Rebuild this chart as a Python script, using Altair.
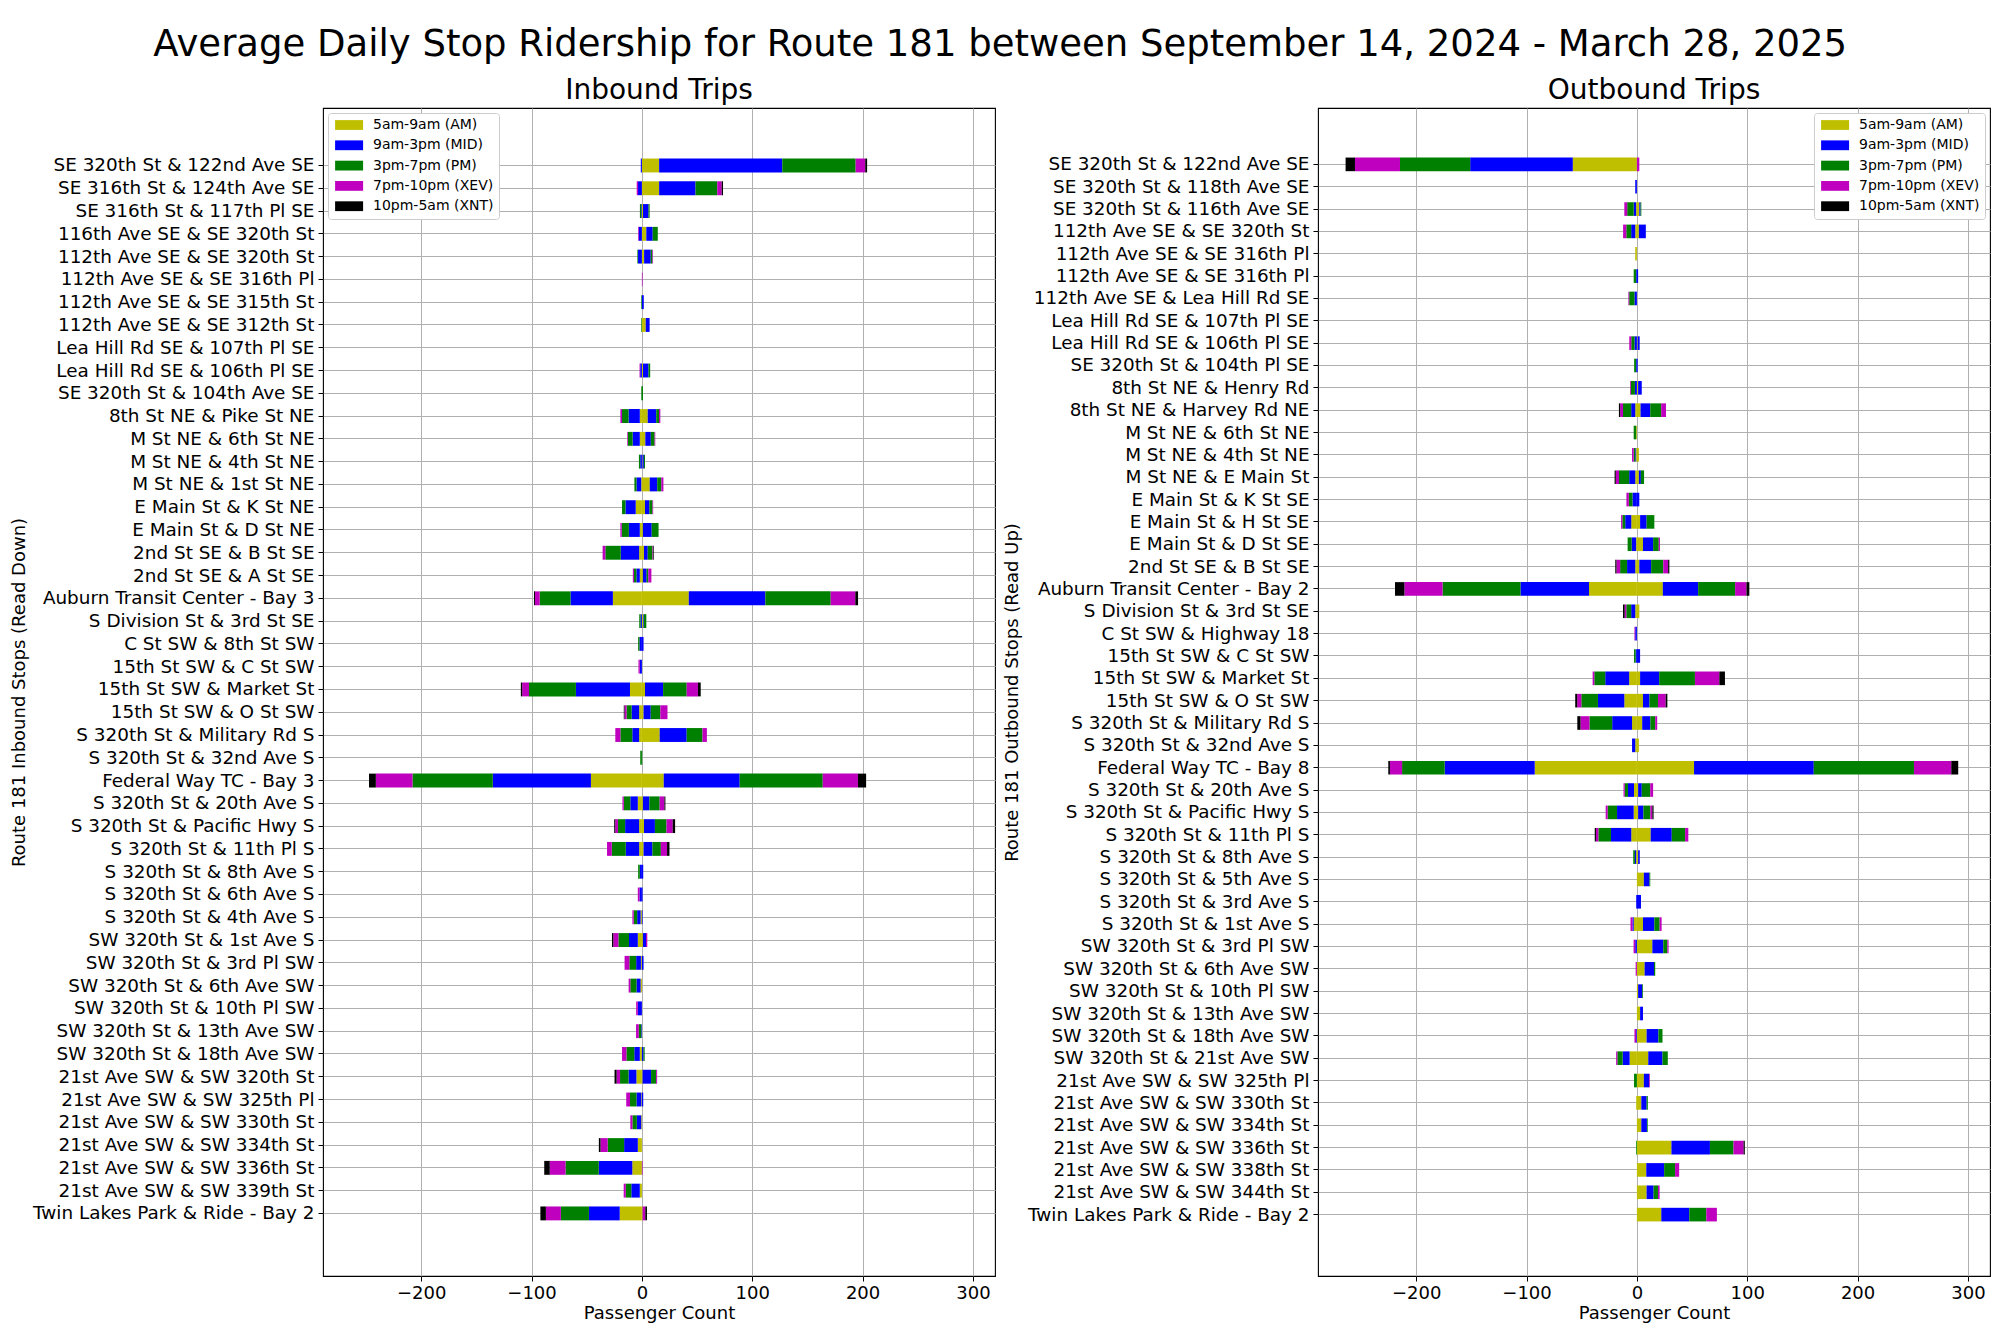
import altair as alt
import pandas as pd

MAIN_TITLE = "Average Daily Stop Ridership for Route 181 between September 14, 2024 - March 28, 2025"
PERIODS = ["5am-9am (AM)", "9am-3pm (MID)", "3pm-7pm (PM)", "7pm-10pm (XEV)", "10pm-5am (XNT)"]
COLORS = ["#bfbf00", "#0000ff", "#008000", "#bf00bf", "#000000"]
X_TICKS = [-200, -100, 0, 100, 200, 300]

inbound_stops = [
    "SE 320th St & 122nd Ave SE", "SE 316th St & 124th Ave SE", "SE 316th St & 117th Pl SE",
    "116th Ave SE & SE 320th St", "112th Ave SE & SE 320th St", "112th Ave SE & SE 316th Pl",
    "112th Ave SE & SE 315th St", "112th Ave SE & SE 312th St", "Lea Hill Rd SE & 107th Pl SE",
    "Lea Hill Rd SE & 106th Pl SE", "SE 320th St & 104th Ave SE", "8th St NE & Pike St NE",
    "M St NE & 6th St NE", "M St NE & 4th St NE", "M St NE & 1st St NE", "E Main St & K St NE",
    "E Main St & D St NE", "2nd St SE & B St SE", "2nd St SE & A St SE",
    "Auburn Transit Center - Bay 3", "S Division St & 3rd St SE", "C St SW & 8th St SW",
    "15th St SW & C St SW", "15th St SW & Market St", "15th St SW & O St SW",
    "S 320th St & Military Rd S", "S 320th St & 32nd Ave S", "Federal Way TC - Bay 3",
    "S 320th St & 20th Ave S", "S 320th St & Pacific Hwy S", "S 320th St & 11th Pl S",
    "S 320th St & 8th Ave S", "S 320th St & 6th Ave S", "S 320th St & 4th Ave S",
    "SW 320th St & 1st Ave S", "SW 320th St & 3rd Pl SW", "SW 320th St & 6th Ave SW",
    "SW 320th St & 10th Pl SW", "SW 320th St & 13th Ave SW", "SW 320th St & 18th Ave SW",
    "21st Ave SW & SW 320th St", "21st Ave SW & SW 325th Pl", "21st Ave SW & SW 330th St",
    "21st Ave SW & SW 334th St", "21st Ave SW & SW 336th St", "21st Ave SW & SW 339th St",
    "Twin Lakes Park & Ride - Bay 2",
]

# Inbound boardings (ons) by period
in_on_am = [15.6, 15.6, 1, 4, 2, 0, 0, 3.5, 0, 1, 0, 5.3, 3.1, 0.6, 7.1, 2.8, 0.9, 1.9, 0.9, 42.5, 1.2, 0, 0, 2.8, 1.5, 16.1, 0, 19.8, 0.9, 1.9, 1.5, 0, 0, 0, 0.9, 0, 0, 0, 0, 0, 0.6, 0, 0, 0, 0, 0, 0.6]
in_on_mid = [111.6, 33, 5, 5.8, 6, 0, 1.7, 3.5, 0, 5, 0, 7.7, 5, 1.2, 6.8, 4, 8, 3.4, 3.4, 69.4, 0.6, 1.5, 0, 16.4, 6.5, 24.5, 0, 68.8, 5.9, 9.9, 8, 1.2, 0.6, 0.6, 2.8, 1.5, 0, 0, 0, 1.5, 7.7, 1.2, 0, 0, 0, 0, 0]
in_on_pm = [66.5, 19.7, 1, 4.6, 1.5, 0, 0, 0, 0, 1.5, 1, 2.5, 3.4, 1, 3.7, 2.8, 6.2, 4.3, 1.5, 59.2, 2.2, 0, 0, 21.4, 8.7, 14.3, 0.3, 75.3, 9.3, 10.5, 7.7, 0, 0, 0, 0, 0, 0, 0, 0, 1, 4.6, 0, 0, 0, 0, 0, 0]
in_on_xev = [8.7, 4, 0, 0, 0.6, 0.6, 0, 0, 0, 0, 0, 1.2, 0.6, 0, 1.9, 0.6, 0, 0.6, 2.8, 22.3, 0, 0, 0, 10.2, 6.5, 4, 0, 31.9, 4.3, 5.6, 5.6, 0, 0, 0, 1.2, 0, 0, 0, 0, 0, 0.9, 0, 0, 0, 0.6, 0, 2.5]
in_on_xnt = [1.7, 1.2, 0, 0, 0, 0, 0, 0, 0, 0, 0, 0, 0, 0, 0, 0, 0, 0.6, 0, 2.5, 0, 0, 0, 2.5, 0, 0, 0, 7.4, 0.9, 2.2, 2.2, 0, 0, 0, 0, 0, 0, 0, 0, 0, 0, 0, 0, 0, 0, 0, 1.5]
# Inbound alightings (offs) by period
in_off_am = [0, 0, 0, 0, 0, 0, 0, 0, 0, 0, 0, 1.9, 1.9, 0, 0.6, 5.6, 1.9, 2.5, 1.9, 26.3, 0, 0, 0, 10.8, 2.5, 2.5, 0, 46.2, 3.7, 2.5, 2.5, 0, 0, 1.2, 3.7, 0.9, 1.2, 0, 0, 1.9, 5, 0.6, 0.6, 3.7, 8.7, 1.9, 20.1]
in_off_mid = [1, 3.5, 0.6, 2.9, 3.5, 0, 0, 0, 0, 1.5, 0, 10.2, 6.5, 1.5, 4.3, 9.3, 9.9, 16.7, 3.1, 38.4, 1.2, 2.2, 1.9, 49, 6.8, 6.2, 0, 88.9, 6.8, 12.7, 12.1, 1.9, 2.2, 3.1, 8, 4.3, 3.7, 3.7, 0.6, 5, 7.1, 4.3, 4, 12.4, 30.4, 7.7, 27.9]
in_off_pm = [0, 0, 1.2, 0, 0.6, 0, 0.6, 0.6, 0, 0, 0.6, 5.9, 4.3, 1.2, 1.9, 3.1, 6.5, 13.9, 2.2, 27.9, 1.2, 1.2, 0, 42.5, 4.6, 10.8, 1.5, 72.8, 5.9, 6.5, 12.7, 1.5, 0, 3.1, 9.6, 6.2, 5.6, 0, 2.2, 7.1, 7.7, 5.9, 4, 14.9, 30.1, 5, 25.4]
in_off_xev = [0, 1.2, 0, 0.6, 0, 0, 0, 0, 0, 0.6, 0, 1.5, 0.6, 0, 0, 0, 1.2, 2.5, 1, 4.3, 0, 0, 1.2, 6.2, 1.9, 4.6, 0, 33.2, 1.2, 2.5, 4.3, 0, 1.5, 1.2, 4.6, 4.3, 1.5, 1.5, 2.5, 4, 3.1, 3.4, 1.9, 6.5, 14.3, 1.9, 13.6]
in_off_xnt = [0, 0, 0, 0, 0, 0, 0, 0, 0, 0, 0, 0, 0, 0, 0, 0, 0, 0, 0, 0.9, 0, 0, 0, 1.2, 0.6, 0, 0, 6.2, 0, 0.9, 0, 0, 0, 0, 1.2, 0, 0, 0, 0, 0, 1.9, 0, 0, 1.5, 5, 0, 5]

outbound_stops = [
    "SE 320th St & 122nd Ave SE", "SE 320th St & 118th Ave SE", "SE 320th St & 116th Ave SE",
    "112th Ave SE & SE 320th St", "112th Ave SE & SE 316th Pl", "112th Ave SE & SE 316th Pl",
    "112th Ave SE & Lea Hill Rd SE", "Lea Hill Rd SE & 107th Pl SE", "Lea Hill Rd SE & 106th Pl SE",
    "SE 320th St & 104th Pl SE", "8th St NE & Henry Rd", "8th St NE & Harvey Rd NE",
    "M St NE & 6th St NE", "M St NE & 4th St NE", "M St NE & E Main St", "E Main St & K St SE",
    "E Main St & H St SE", "E Main St & D St SE", "2nd St SE & B St SE",
    "Auburn Transit Center - Bay 2", "S Division St & 3rd St SE", "C St SW & Highway 18",
    "15th St SW & C St SW", "15th St SW & Market St", "15th St SW & O St SW",
    "S 320th St & Military Rd S", "S 320th St & 32nd Ave S", "Federal Way TC - Bay 8",
    "S 320th St & 20th Ave S", "S 320th St & Pacific Hwy S", "S 320th St & 11th Pl S",
    "S 320th St & 8th Ave S", "S 320th St & 5th Ave S", "S 320th St & 3rd Ave S",
    "S 320th St & 1st Ave S", "SW 320th St & 3rd Pl SW", "SW 320th St & 6th Ave SW",
    "SW 320th St & 10th Pl SW", "SW 320th St & 13th Ave SW", "SW 320th St & 18th Ave SW",
    "SW 320th St & 21st Ave SW", "21st Ave SW & SW 325th Pl", "21st Ave SW & SW 330th St",
    "21st Ave SW & SW 334th St", "21st Ave SW & SW 336th St", "21st Ave SW & SW 338th St",
    "21st Ave SW & SW 344th St", "Twin Lakes Park & Ride - Bay 2",
]

# Outbound boardings (ons) by period
out_on_am = [0, 0, 2.2, 1.8, 0, 0, 0, 0, 0.7, 0, 1.1, 3.3, 0, 1.8, 1.8, 0, 2.9, 5.5, 2.2, 23.5, 2.2, 0, 0, 2.9, 5.5, 4.8, 1.8, 51.8, 1.1, 1.1, 12.5, 1.1, 6.3, 0, 5.5, 14, 7, 1.1, 2.9, 8.8, 10.3, 6.3, 4, 4, 31.3, 8.5, 8.8, 22.1]
out_on_mid = [0, 0, 1.1, 6.3, 0, 1.1, 0, 0, 1.8, 0.7, 3.3, 8.8, 0, 0, 1.8, 2.2, 5.9, 9.2, 10.7, 32, 0, 0, 2.9, 17.3, 5.9, 7.4, 0, 108.5, 3.3, 4.8, 19.1, 1.5, 5.1, 3.7, 10.3, 9.9, 8.5, 3.7, 2.6, 10.7, 12.9, 4.8, 4.8, 5.1, 34.9, 16.2, 6.3, 25.4]
out_on_pm = [0, 0, 0.7, 0, 0, 0, 0, 0, 0, 0, 0, 9.9, 0, 0, 2.9, 0, 7, 5.1, 11, 33.5, 0, 0, 0, 32.4, 7.7, 4.4, 0, 90.8, 7.7, 6.3, 12.1, 0, 0.7, 0, 4.8, 3.7, 1.1, 0.7, 0, 3.7, 4.8, 0, 1.1, 0.7, 21.3, 9.9, 4, 15.4]
out_on_xev = [2.2, 0, 0, 0, 0, 0, 0, 0, 0, 0, 0, 4.4, 0, 0, 0, 0, 0, 1.1, 4.4, 10.3, 0, 0, 0, 22.1, 7, 1.8, 0, 33.8, 2.6, 1.8, 2.9, 0, 0, 0, 1.8, 1.1, 0, 0, 0, 0, 0, 0.7, 0, 0, 9.2, 3.7, 1.5, 9.6]
out_on_xnt = [0, 0, 0, 0, 0, 0, 0, 0, 0, 0, 0, 0, 0, 0, 0, 0, 0, 0, 1.1, 2.6, 0, 0, 0, 5.1, 1.5, 0, 0, 6.3, 0, 1.1, 0, 0, 0, 0, 0, 0, 0, 0, 0, 0, 0, 0, 0, 0, 1.1, 0, 0, 0]
# Outbound alightings (offs) by period
out_off_am = [58.1, 0, 0.7, 1.5, 1.5, 0, 0, 0, 0, 0, 0, 1.5, 0.7, 0.7, 1.5, 0, 5.1, 0.7, 1.5, 43.4, 1.5, 0, 0, 7, 11.4, 4.4, 1.5, 92.6, 2.6, 2.9, 5.1, 0.7, 0, 0, 2.9, 0, 0, 0, 0, 0, 6.6, 0, 0.7, 0, 0, 0, 0, 0]
out_off_mid = [93, 1.5, 2.2, 3.7, 0, 0.7, 2.2, 0, 2.2, 0.7, 1.8, 3.7, 0, 0.7, 5.5, 4, 5.5, 4, 7.4, 62.1, 3.7, 1.5, 1.1, 21.7, 23.9, 18, 2.9, 81.6, 5.5, 15.1, 18.4, 1.1, 0, 0.7, 1.1, 1.5, 0, 0, 0, 0.7, 6.3, 0, 0, 0, 0, 0, 0, 0]
out_off_pm = [63.6, 0, 5.9, 4.4, 0, 2.2, 4.8, 0, 2.9, 1.8, 3.7, 7.4, 2.2, 1.5, 9.2, 3.3, 2.6, 3.7, 6.3, 70.6, 4.4, 0, 1.5, 9.9, 15.1, 20.6, 0, 38.6, 2.9, 8.5, 11.4, 1.5, 0, 0, 0, 0, 0, 0, 0, 0, 4.8, 2.6, 0, 0, 0.7, 0, 0, 0]
out_off_xev = [40.8, 0, 2.6, 2.9, 0, 0, 0.7, 0, 1.8, 0, 0.7, 2.6, 0, 1.5, 2.9, 2.2, 1.1, 0, 3.3, 34.6, 1.5, 0.7, 0, 1.5, 3.7, 8.1, 0, 11, 1.1, 1.8, 2.2, 0, 0, 0, 1.8, 1.5, 1.1, 0, 0, 1.5, 1.1, 0, 0, 0, 0, 0, 0, 0]
out_off_xnt = [8.5, 0, 0, 0, 0, 0, 0, 0, 0, 0, 0, 1.1, 0, 0, 1.1, 0, 0, 0, 1.1, 8.5, 1.5, 0, 0, 0, 1.8, 2.9, 0, 1.5, 0, 0, 1.1, 0, 0, 0, 0, 0, 0, 0, 0, 0, 0, 0, 0, 0, 0, 0, 0, 0]

# empty rows that leave the blank bands above and below the stop list
TOP_PAD = ["~pad_top_1", "~pad_top_2"]
BOTTOM_PAD = ["~pad_bot_1", "~pad_bot_2"]


def build(stops, ons, offs):
    keys = [f"{i:02d}|{s}" for i, s in enumerate(stops)]
    rows = []
    for p_i, (p, on, off) in enumerate(zip(PERIODS, ons, offs)):
        for k, a, b in zip(keys, on, off):
            if a:
                rows.append({"key": k, "period": p, "order": p_i, "value": a})
            if b:
                rows.append({"key": k, "period": p, "order": p_i, "value": -b})
    return keys, pd.DataFrame(rows)


# wide rectangular legend swatch, shifted so it starts at the entry's left edge
LEGEND_SHAPE = "M-0.7,-0.7L3.3,-0.7L3.3,0.7L-0.7,0.7Z"


def panel(stops, ons, offs, title, ytitle, orient, title_x):
    keys, df = build(stops, ons, offs)
    return alt.Chart(df).mark_bar().encode(
        x=alt.X("value:Q", stack="zero",
                scale=alt.Scale(domain=[-289, 320], nice=False, zero=False),
                axis=alt.Axis(values=X_TICKS, title="Passenger Count", grid=True,
                              tickSize=5, labelPadding=3, titlePadding=2)),
        y=alt.Y("key:N",
                scale=alt.Scale(domain=TOP_PAD + keys + BOTTOM_PAD,
                                paddingInner=0.39, paddingOuter=0.33, align=0.33),
                axis=alt.Axis(values=keys, labelExpr="split(datum.label, '|')[1]", title=ytitle,
                              labelLimit=400, bandPosition=0.5, grid=True,
                              tickSize=5, labelPadding=4, labelFontSize=18.4,
                              titleX=title_x, titleBaseline="middle")),
        color=alt.Color("period:N",
                        scale=alt.Scale(domain=PERIODS, range=COLORS),
                        legend=alt.Legend(title=None, orient=orient, offset=5,
                                          fillColor="white", strokeColor="#cccccc",
                                          cornerRadius=3, padding=5, labelFontSize=14,
                                          symbolType=LEGEND_SHAPE, symbolSize=196,
                                          symbolStrokeWidth=0, rowPadding=6.3,
                                          labelOffset=26)),
        order=alt.Order("order:Q", sort="ascending"),
    ).properties(
        width=672, height=1168,
        title=alt.TitleParams(title, fontSize=28, fontWeight="normal", offset=3),
    )


left = panel(inbound_stops,
             [in_on_am, in_on_mid, in_on_pm, in_on_xev, in_on_xnt],
             [in_off_am, in_off_mid, in_off_pm, in_off_xev, in_off_xnt],
             "Inbound Trips", "Route 181 Inbound Stops (Read Down)", "top-left", -303.5)
right = panel(outbound_stops,
              [out_on_am, out_on_mid, out_on_pm, out_on_xev, out_on_xnt],
              [out_off_am, out_off_mid, out_off_pm, out_off_xev, out_off_xnt],
              "Outbound Trips", "Route 181 Outbound Stops (Read Up)", "top-right", -305.3)

chart = alt.HConcatChart(
    hconcat=[left, right], spacing=323, bounds="flush",
).resolve_scale(color="independent").properties(
    title=alt.TitleParams(MAIN_TITLE, fontSize=37, fontWeight="normal", anchor="middle",
                          offset=12),
    padding={"left": 1, "top": 18, "right": 1, "bottom": 2},
).configure(
    font="DejaVu Sans",
).configure_view(
    stroke="black", strokeWidth=1.1,
).configure_axis(
    labelFontSize=18, titleFontSize=18, titleFontWeight="normal",
    labelColor="black", titleColor="black", tickColor="black",
    domain=False, gridColor="#b0b0b0", gridWidth=1,
).configure_title(
    color="black",
)

chart.save("out.html", embed_options={"renderer": "svg", "actions": False})
